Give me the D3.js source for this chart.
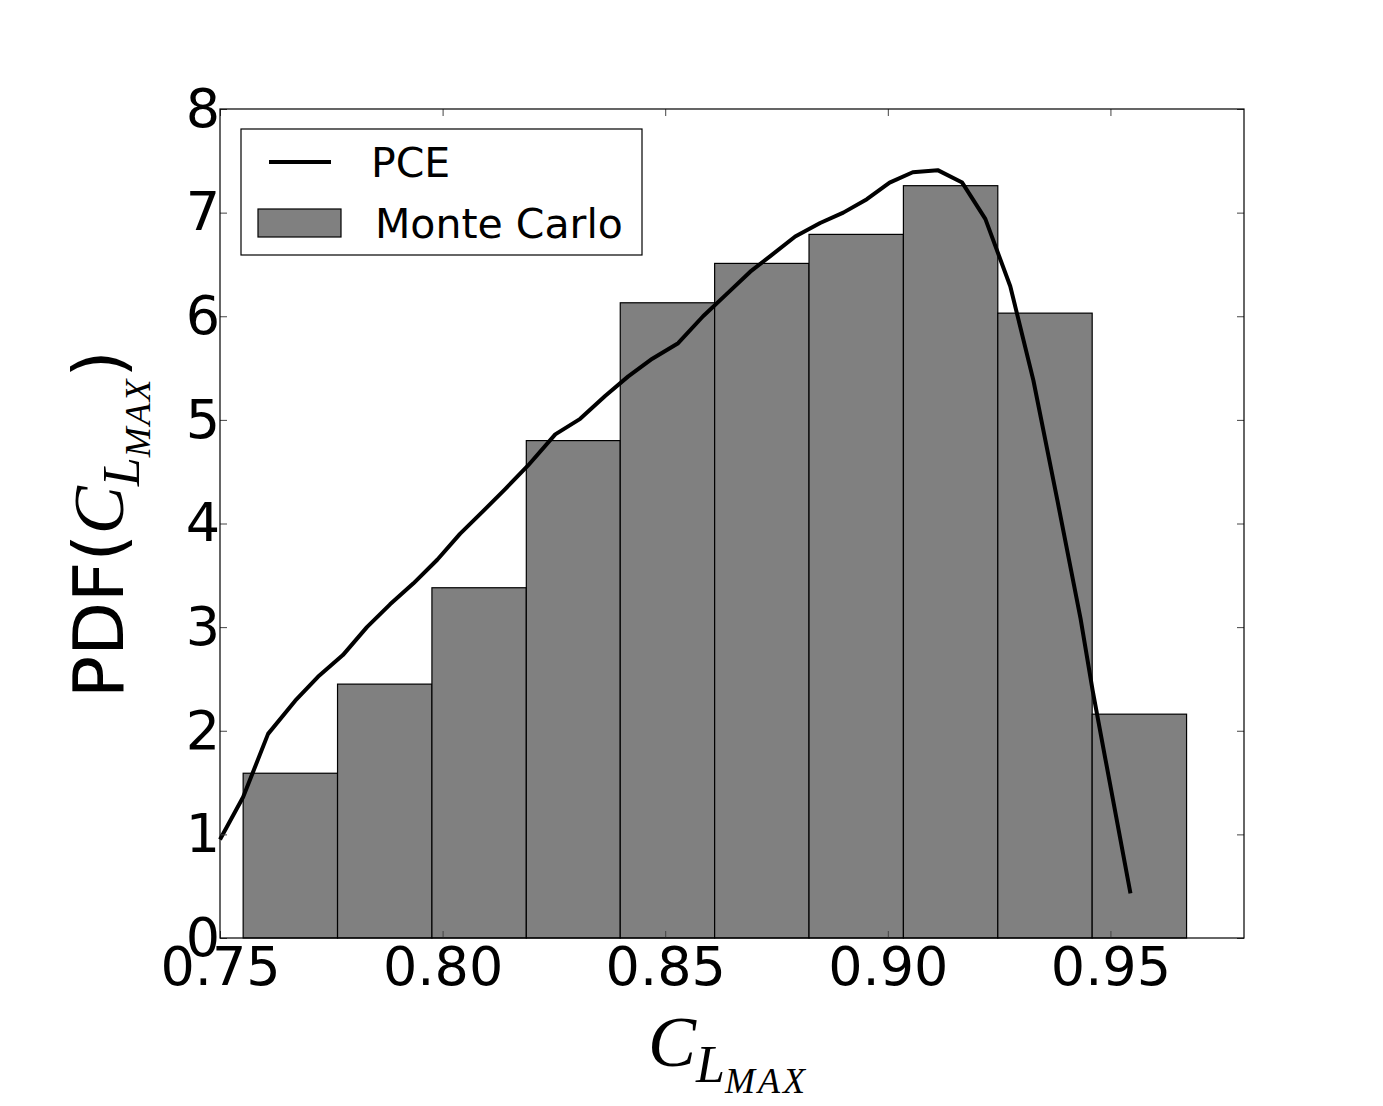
<!DOCTYPE html>
<html>
<head>
<meta charset="utf-8">
<script src="https://cdn.jsdelivr.net/npm/d3@7"></script>
<style>
  body { margin: 0; background: #fff; }
  svg text { font-family: "DejaVu Sans", sans-serif; }
</style>
</head>
<body>
<div id="chart"></div>
<script>
// Monte Carlo histogram: bin edges and density heights
const binEdges = [0.7552, 0.7764, 0.7976, 0.8188, 0.8399, 0.8611, 0.8823, 0.9035, 0.9247, 0.9459, 0.9671];
const binHeights = [1.59, 2.45, 3.38, 4.80, 6.13, 6.51, 6.79, 7.26, 6.03, 2.16];

// PCE curve
const pceX = [0.7500, 0.7552, 0.7608, 0.7669, 0.7720, 0.7776, 0.7830, 0.7882, 0.7934, 0.7988,
              0.8039, 0.8091, 0.8140, 0.8192, 0.8253, 0.8309, 0.8365, 0.8417, 0.8471, 0.8529,
              0.8585, 0.8642, 0.8691, 0.8736, 0.8792, 0.8848, 0.8900, 0.8953, 0.9004, 0.9056,
              0.9112, 0.9167, 0.9219, 0.9275, 0.9327, 0.9381, 0.9433, 0.9460, 0.9489, 0.9545];
const pceY = [0.95, 1.36, 1.97, 2.29, 2.52, 2.73, 3.00, 3.22, 3.42, 3.65,
              3.90, 4.12, 4.33, 4.56, 4.86, 5.01, 5.23, 5.42, 5.59, 5.74,
              6.00, 6.23, 6.43, 6.58, 6.77, 6.90, 7.00, 7.13, 7.29, 7.39,
              7.41, 7.29, 6.94, 6.29, 5.38, 4.22, 3.08, 2.39, 1.72, 0.43];

const xTicks = [0.75, 0.80, 0.85, 0.90, 0.95];
const yTicks = [0, 1, 2, 3, 4, 5, 6, 7, 8];

const W = 1383, H = 1106;
const margin = {top: 109, right: 139, bottom: 168, left: 220};
const width = W - margin.left - margin.right,
      height = H - margin.top - margin.bottom;

const svg = d3.select("#chart").append("svg")
  .attr("width", W).attr("height", H);

const g = svg.append("g")
  .attr("transform", `translate(${margin.left},${margin.top})`);

const x = d3.scaleLinear().domain([0.75, 0.98]).range([0, width]);
const y = d3.scaleLinear().domain([0, 8]).range([height, 0]);

// bars
const bins = binHeights.map((h, i) => ({x0: binEdges[i], x1: binEdges[i + 1], h: h}));
g.selectAll("rect.bar")
  .data(bins)
  .enter().append("rect")
  .attr("class", "bar")
  .attr("x", d => x(d.x0))
  .attr("y", d => y(d.h))
  .attr("width", d => x(d.x1) - x(d.x0))
  .attr("height", d => y(0) - y(d.h))
  .attr("fill", "#808080")
  .attr("stroke", "#000")
  .attr("stroke-width", 1.2);

// PCE line
const line = d3.line()
  .x(d => x(d[0]))
  .y(d => y(d[1]));

g.append("path")
  .datum(pceX.map((v, i) => [v, pceY[i]]))
  .attr("fill", "none")
  .attr("stroke", "#000")
  .attr("stroke-width", 4)
  .attr("stroke-linejoin", "round")
  .attr("d", line);

// axes (ticks inward on all four sides)
const styleAxis = sel => {
  sel.select(".domain").remove();
  sel.selectAll(".tick line").attr("stroke", "#444").attr("stroke-width", 1);
  sel.selectAll(".tick text").attr("fill", "#000").attr("font-size", 54)
     .attr("font-family", "DejaVu Sans");
};

g.append("g")
  .attr("transform", `translate(0,${height})`)
  .call(d3.axisBottom(x).tickValues(xTicks).tickFormat(d3.format(".2f"))
        .tickSize(-7).tickPadding(9))
  .call(styleAxis);

g.append("g")
  .call(d3.axisTop(x).tickValues(xTicks).tickFormat("").tickSize(-7))
  .call(styleAxis);

g.append("g")
  .call(d3.axisLeft(y).tickValues(yTicks).tickFormat(d3.format("d"))
        .tickSize(-7).tickPadding(0))
  .call(styleAxis);

g.append("g")
  .attr("transform", `translate(${width},0)`)
  .call(d3.axisRight(y).tickValues(yTicks).tickFormat("").tickSize(-7))
  .call(styleAxis);

// frame
g.append("rect")
  .attr("width", width).attr("height", height)
  .attr("fill", "none").attr("stroke", "#000").attr("stroke-width", 1.2);

// legend
const lg = svg.append("g");
lg.append("rect")
  .attr("x", 241).attr("y", 129).attr("width", 401).attr("height", 126)
  .attr("fill", "#fff").attr("stroke", "#000").attr("stroke-width", 1.2);
lg.append("line")
  .attr("x1", 269).attr("x2", 331).attr("y1", 162).attr("y2", 162)
  .attr("stroke", "#000").attr("stroke-width", 4);
lg.append("text")
  .attr("x", 371).attr("y", 177).attr("font-size", 41).text("PCE");
lg.append("rect")
  .attr("x", 258).attr("y", 209).attr("width", 83).attr("height", 28)
  .attr("fill", "#808080").attr("stroke", "#000").attr("stroke-width", 1.2);
lg.append("text")
  .attr("x", 375).attr("y", 238).attr("font-size", 41).text("Monte Carlo");

// x label: C_{L_{MAX}}
const xl = svg.append("text")
  .attr("x", 648).attr("y", 1066)
  .style("font-family", "'Liberation Serif', serif")
  .attr("font-style", "italic")
  .attr("font-size", 72);
xl.append("tspan").text("C");
xl.append("tspan").attr("font-size", 52).attr("dy", 16).text("L");
xl.append("tspan").attr("font-size", 36).attr("dy", 11)
  .attr("letter-spacing", 3).text("MAX");

// y label: PDF(C_{L_{MAX}})
const yl = svg.append("text")
  .attr("transform", "translate(123,698) rotate(-90)")
  .attr("font-size", 70);
yl.append("tspan").text("PDF(");
yl.append("tspan")
  .style("font-family", "'Liberation Serif', serif")
  .attr("font-style", "italic").attr("font-size", 72).text("C");
yl.append("tspan")
  .style("font-family", "'Liberation Serif', serif")
  .attr("font-style", "italic").attr("font-size", 52).attr("dy", 16).text("L");
yl.append("tspan")
  .style("font-family", "'Liberation Serif', serif")
  .attr("font-style", "italic").attr("font-size", 36).attr("dy", 11)
  .attr("letter-spacing", 2).text("MAX");
yl.append("tspan").attr("dy", -27).text(")");
</script>
</body>
</html>
